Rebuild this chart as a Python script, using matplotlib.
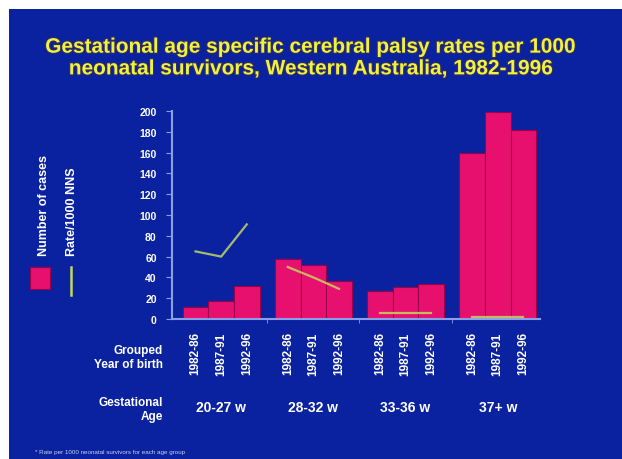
import matplotlib.pyplot as plt
import matplotlib.patches as mpatches
import matplotlib.patheffects as pe
import numpy as np

# data
age_groups = ["20-27 w", "28-32 w", "33-36 w", "37+ w"]
birth_years = ["1982-86", "1987-91", "1992-96"]
cases = [
    [12, 17, 32],
    [58, 52, 37],
    [27, 31, 34],
    [160, 199, 182],
]
rates = [
    [65, 60, 91],
    [50, 40, 29],
    [6, 6, 6],
    [2, 2, 2],
]

BG = "#0a22a0"
BAR = "#e8106e"
AXC = "#8c9ee8"
LINE = "#c0d860"

fig = plt.figure(figsize=(6.22, 4.60), dpi=100, facecolor="white")
fig.patches.append(mpatches.Rectangle((9 / 622, 0), 1, 450 / 460, transform=fig.transFigure,
                                      facecolor=BG, edgecolor="none", zorder=-10))

ax = fig.add_axes([172 / 622, 140 / 460, 368 / 622, 208 / 460])
ax.set_facecolor(BG)
ax.patch.set_alpha(0)

gap = 3.6
centers = np.arange(len(age_groups)) * gap
offsets = np.array([-1, 0, 1])
xs, labels = [], []
for g, c in enumerate(centers):
    x = c + offsets
    ax.bar(x, cases[g], width=1.0, color=BAR, edgecolor="#9a0048", linewidth=0.8, zorder=2)
    ax.plot(x, rates[g], color=LINE, lw=1.6, alpha=0.85, zorder=3)
    xs.extend(x)
    labels.extend(birth_years)

ax.set_xlim(-1.92, centers[-1] + 1.65)
ax.set_ylim(0, 200)
ax.set_yticks(np.arange(0, 201, 20))
ax.set_xticks(xs)
ax.set_xticklabels(labels, rotation=90, color="white", fontsize=8.5, fontweight="bold",
                   family="Liberation Sans")
ax.set_xticks((centers[:-1] + gap / 2).tolist(), minor=True)
ax.tick_params(axis="x", which="major", length=0, pad=9)
ax.tick_params(axis="x", which="minor", length=3, color=AXC, direction="out")
ax.tick_params(axis="y", colors=AXC, length=4, labelcolor="white", labelsize=7.5, pad=7)
for t in ax.get_yticklabels():
    t.set_fontweight("bold")
    t.set_family("Liberation Sans")
for s in ["top", "right"]:
    ax.spines[s].set_visible(False)
for s in ["left", "bottom"]:
    ax.spines[s].set_color(AXC)
    ax.spines[s].set_linewidth(1.5)

# title
title = ("Gestational age specific cerebral palsy rates per 1000\n"
         "neonatal survivors, Western Australia, 1982-1996")
fig.text(312 / 622, 1 - 59 / 460, title, ha="center", va="center", color="#f2f040",
         fontsize=15, fontweight="bold", family="Liberation Sans", linespacing=1.18,
         path_effects=[pe.withStroke(linewidth=1.5, foreground="#303060")])

# row labels under the axis
txt = dict(color="white", fontweight="bold", family="Liberation Sans", fontsize=8.5)
fig.text(163 / 622, 1 - 358 / 460, "Grouped\nYear of birth", ha="right", va="center", **txt)
fig.text(163 / 622, 1 - 410 / 460, "Gestational\nAge", ha="right", va="center", **txt)
for c, lab in zip(centers, age_groups):
    xd = ax.transData.transform((c, 0))[0] / fig.bbox.width
    fig.text(xd, 1 - 408 / 460, lab, ha="center", va="center",
             **{**txt, "fontsize": 10})

# legend at the left
fig.patches.append(mpatches.Rectangle((30 / 622, 1 - 290 / 460), 20 / 622, 22 / 460,
                                      transform=fig.transFigure, facecolor=BAR,
                                      edgecolor="#9a0048", lw=0.8))
fig.lines.append(plt.Line2D([71 / 622, 71 / 622], [1 - 296 / 460, 1 - 268 / 460],
                            transform=fig.transFigure, color=LINE, lw=1.8))
leg = dict(color="white", fontweight="bold", family="Liberation Sans", fontsize=9,
           rotation=90, ha="center", va="bottom")
fig.text(44 / 622, 1 - 256 / 460, "Number of cases", **leg)
fig.text(72 / 622, 1 - 256 / 460, "Rate/1000 NNS", **leg)

# footnote
fig.text(35 / 622, 1 - 453 / 460, "* Rate per 1000 neonatal survivors for each age group",
         color="#c8d0f0", fontsize=4.5, family="Liberation Sans", va="center")

fig.savefig("out.png", dpi=100, facecolor="white")
